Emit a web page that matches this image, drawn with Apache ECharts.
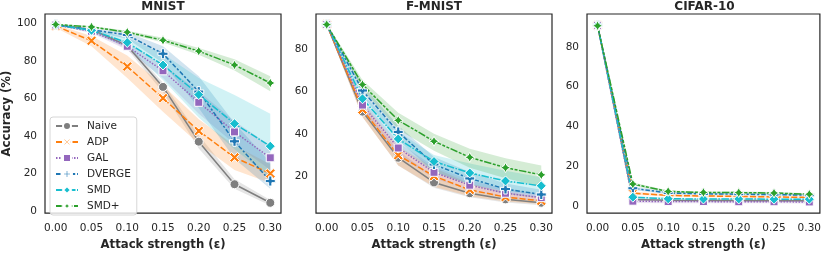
<!DOCTYPE html>
<html><head><meta charset="utf-8">
<script src="https://cdn.jsdelivr.net/npm/echarts@6/dist/echarts.min.js"></script>
<style>html,body{margin:0;padding:0;background:#fff}#c{width:824px;height:256px}</style>
</head><body><div id="c"></div>
<script>
// ---------- data ----------
const xValues = [0, 0.05, 0.1, 0.15, 0.2, 0.25, 0.3];
const xTickValues = [0, 0.05, 0.1, 0.15, 0.2, 0.25, 0.3];
const methods = ['Naive', 'ADP', 'GAL', 'DVERGE', 'SMD', 'SMD+'];
const panelTitles = ['MNIST', 'F-MNIST', 'CIFAR-10'];
const yTicksMnist = [0, 20, 40, 60, 80, 100];
const yTicksFmnist = [20, 40, 60, 80];
const yTicksCifar = [0, 20, 40, 60, 80];

// MNIST means
const mnistNaive  = [99.4, 97.0, 88.3, 66.3, 37.1, 14.4, 4.5];
const mnistADP    = [98.8, 90.9, 77.2, 60.3, 42.8, 28.7, 20.1];
const mnistGAL    = [99.3, 96.0, 88.0, 74.9, 58.1, 42.3, 28.5];
const mnistDVERGE = [99.4, 96.8, 94.0, 84.0, 63.8, 37.3, 16.1];
const mnistSMD    = [99.4, 96.5, 90.0, 78.0, 62.2, 46.7, 34.7];
const mnistSMDp   = [99.6, 98.3, 95.5, 91.2, 85.4, 78.0, 68.4];
// MNIST bands
const mnistNaiveLo  = [99.2, 96.5, 86.5, 63.5, 33.5, 12.0, 3.0];
const mnistNaiveHi  = [99.6, 97.5, 89.5, 68.5, 40.5, 17.0, 6.0];
const mnistADPLo    = [97.8, 88.0, 71.0, 53.0, 36.0, 22.0, 15.0];
const mnistADPHi    = [99.6, 93.5, 83.0, 67.0, 49.0, 35.0, 25.0];
const mnistGALLo    = [99.0, 95.0, 86.0, 71.0, 52.0, 36.0, 22.0];
const mnistGALHi    = [99.6, 97.0, 90.0, 78.0, 64.0, 48.0, 35.0];
const mnistDVERGELo = [99.2, 96.0, 92.0, 79.0, 55.0, 28.0, 12.0];
const mnistDVERGEHi = [99.6, 97.5, 95.5, 88.0, 72.0, 47.0, 26.0];
const mnistSMDLo    = [99.2, 95.5, 87.5, 70.0, 50.0, 33.0, 18.0];
const mnistSMDHi    = [99.6, 97.5, 92.5, 84.0, 71.0, 62.0, 52.0];
const mnistSMDpLo   = [99.4, 97.8, 94.8, 90.0, 83.5, 75.0, 64.0];
const mnistSMDpHi   = [99.8, 98.8, 96.2, 92.5, 87.0, 81.0, 72.0];

// F-MNIST means
const fmnistNaive  = [91.7, 50.5, 28.7, 17.0, 11.9, 9.0, 7.4];
const fmnistADP    = [91.7, 51.5, 29.9, 20.0, 13.5, 10.1, 8.3];
const fmnistGAL    = [91.7, 53.6, 33.3, 21.8, 15.7, 11.9, 9.8];
const fmnistDVERGE = [91.7, 60.5, 40.9, 25.5, 18.9, 13.9, 11.3];
const fmnistSMD    = [91.7, 56.6, 37.6, 26.9, 21.5, 17.7, 15.4];
const fmnistSMDp   = [91.7, 63.3, 46.4, 36.5, 28.9, 24.0, 20.6];
// F-MNIST bands
const fmnistNaiveLo  = [91.2, 48.0, 25.0, 14.5, 10.0, 7.5, 6.2];
const fmnistNaiveHi  = [92.2, 53.0, 32.0, 19.5, 13.5, 10.5, 8.6];
const fmnistADPLo    = [91.2, 48.0, 25.0, 15.0, 10.5, 8.0, 6.8];
const fmnistADPHi    = [92.2, 55.0, 34.0, 24.0, 16.5, 12.5, 10.0];
const fmnistGALLo    = [91.2, 51.0, 30.0, 19.0, 13.5, 10.0, 8.3];
const fmnistGALHi    = [92.2, 56.0, 36.0, 24.5, 18.0, 14.0, 11.5];
const fmnistDVERGELo = [91.2, 58.0, 37.0, 22.0, 16.0, 11.5, 9.5];
const fmnistDVERGEHi = [92.2, 63.0, 44.0, 29.0, 22.0, 16.5, 13.5];
const fmnistSMDLo    = [91.2, 54.0, 34.0, 22.0, 16.0, 13.0, 11.0];
const fmnistSMDHi    = [92.2, 59.0, 41.0, 30.0, 26.0, 22.5, 19.5];
const fmnistSMDpLo   = [91.3, 61.0, 42.0, 32.0, 24.0, 19.0, 15.0];
const fmnistSMDpHi   = [92.1, 65.5, 50.0, 40.0, 33.0, 28.5, 25.0];

// CIFAR-10 means
const cifarNaive  = [90.8, 3.2, 2.8, 2.7, 2.7, 2.6, 2.6];
const cifarADP    = [90.8, 6.4, 5.3, 5.0, 4.8, 4.5, 4.3];
const cifarGAL    = [90.8, 2.4, 2.2, 2.2, 2.1, 2.1, 2.0];
const cifarDVERGE = [90.8, 8.9, 6.5, 6.1, 5.9, 5.7, 5.4];
const cifarSMD    = [90.8, 4.4, 3.6, 3.5, 3.5, 3.4, 3.4];
const cifarSMDp   = [90.6, 11.0, 7.3, 6.8, 6.7, 6.5, 5.9];
// CIFAR-10 bands
const cifarNaiveLo  = [90.0, 2.6, 2.2, 2.1, 2.1, 2.0, 2.0];
const cifarNaiveHi  = [91.6, 3.8, 3.4, 3.3, 3.3, 3.2, 3.2];
const cifarADPLo    = [90.0, 5.6, 4.7, 4.4, 4.2, 4.0, 3.8];
const cifarADPHi    = [91.6, 7.2, 5.9, 5.6, 5.4, 5.0, 4.8];
const cifarGALLo    = [90.0, 1.5, 1.4, 1.4, 1.3, 1.3, 1.2];
const cifarGALHi    = [91.6, 3.3, 3.0, 3.0, 2.9, 2.9, 2.8];
const cifarDVERGELo = [90.0, 8.0, 5.9, 5.6, 5.4, 5.2, 4.9];
const cifarDVERGEHi = [91.6, 9.8, 7.1, 6.6, 6.4, 6.2, 5.9];
const cifarSMDLo    = [90.0, 3.8, 3.1, 3.0, 3.0, 2.9, 2.9];
const cifarSMDHi    = [91.6, 5.0, 4.1, 4.0, 4.0, 3.9, 3.9];
const cifarSMDpLo   = [90.0, 10.2, 6.8, 6.3, 6.2, 6.0, 5.4];
const cifarSMDpHi   = [91.2, 11.8, 7.8, 7.3, 7.2, 7.0, 6.4];

// ---------- styles ----------
const colors = {'Naive':'#7f7f7f','ADP':'#ff7f0e','GAL':'#9467bd','DVERGE':'#1f77b4','SMD':'#17becf','SMD+':'#2ca02c'};
const dashes = {'Naive':'solid','ADP':[6,2.25],'GAL':[1.5,1.5],'DVERGE':[4.5,1.9,2.25,1.9],'SMD':[7.5,1.5,1.5,1.5],'SMD+':[7.5,1.5,3,1.5,3,1.5]};
const symbols = {
  'Naive':'circle',
  'ADP':'path://M0,2 L2,0 L5,3 L8,0 L10,2 L7,5 L10,8 L8,10 L5,7 L2,10 L0,8 L3,5 Z',
  'GAL':'rect',
  'DVERGE':'path://M3.4,0 H6.6 V3.4 H10 V6.6 H6.6 V10 H3.4 V6.6 H0 V3.4 H3.4 Z',
  'SMD':'diamond',
  'SMD+':'path://M5,0 L6.77,3.23 L10,5 L6.77,6.77 L5,10 L3.23,6.77 L0,5 L3.23,3.23 Z'
};
const symSizes = {'Naive':9,'ADP':10,'GAL':8,'DVERGE':10,'SMD':10,'SMD+':10};

const panelData = [
  {mean:{'Naive':mnistNaive,'ADP':mnistADP,'GAL':mnistGAL,'DVERGE':mnistDVERGE,'SMD':mnistSMD,'SMD+':mnistSMDp},
   lo:{'Naive':mnistNaiveLo,'ADP':mnistADPLo,'GAL':mnistGALLo,'DVERGE':mnistDVERGELo,'SMD':mnistSMDLo,'SMD+':mnistSMDpLo},
   hi:{'Naive':mnistNaiveHi,'ADP':mnistADPHi,'GAL':mnistGALHi,'DVERGE':mnistDVERGEHi,'SMD':mnistSMDHi,'SMD+':mnistSMDpHi},
   ticks: yTicksMnist, ymin:-1.0, ymax:105.2},
  {mean:{'Naive':fmnistNaive,'ADP':fmnistADP,'GAL':fmnistGAL,'DVERGE':fmnistDVERGE,'SMD':fmnistSMD,'SMD+':fmnistSMDp},
   lo:{'Naive':fmnistNaiveLo,'ADP':fmnistADPLo,'GAL':fmnistGALLo,'DVERGE':fmnistDVERGELo,'SMD':fmnistSMDLo,'SMD+':fmnistSMDpLo},
   hi:{'Naive':fmnistNaiveHi,'ADP':fmnistADPHi,'GAL':fmnistGALHi,'DVERGE':fmnistDVERGEHi,'SMD':fmnistSMDHi,'SMD+':fmnistSMDpHi},
   ticks: yTicksFmnist, ymin:2.5, ymax:96.7},
  {mean:{'Naive':cifarNaive,'ADP':cifarADP,'GAL':cifarGAL,'DVERGE':cifarDVERGE,'SMD':cifarSMD,'SMD+':cifarSMDp},
   lo:{'Naive':cifarNaiveLo,'ADP':cifarADPLo,'GAL':cifarGALLo,'DVERGE':cifarDVERGELo,'SMD':cifarSMDLo,'SMD+':cifarSMDpLo},
   hi:{'Naive':cifarNaiveHi,'ADP':cifarADPHi,'GAL':cifarGALHi,'DVERGE':cifarDVERGEHi,'SMD':cifarSMDHi,'SMD+':cifarSMDpHi},
   ticks: yTicksCifar, ymin:-3.6, ymax:96.5}
];

const gridPos = [{left:45,width:236},{left:316,width:236},{left:587,width:235}];
const FONT = 'DejaVu Sans';
const TXT = '#262626';

// band polygon drawn once per band through the axis scales (api.coord)
function bandRenderer(color) {
  return function (params, api) {
    if (params.dataIndexInside !== 0) return null;
    const n = params.dataInsideLength;
    const upper = [], lower = [];
    for (let j = 0; j < n; j++) {
      const x = api.value(0, j), lo = api.value(1, j), hi = api.value(2, j);
      upper.push(api.coord([x, hi]));
      lower.push(api.coord([x, lo]));
    }
    const pts = upper.concat(lower.reverse());
    return {type:'polygon', shape:{points:pts}, style:{fill:color, opacity:0.2}, silent:true};
  };
}

const grids = [], xAxes = [], yAxes = [], titles = [], series = [];
gridPos.forEach((g, p) => {
  grids.push({left:g.left, top:14, width:g.width, height:206, show:true, borderColor:TXT, borderWidth:1.2, backgroundColor:'transparent', containLabel:false});
  titles.push({text:panelTitles[p], left:g.left + g.width/2, top:1, textAlign:'center', padding:0,
    textStyle:{fontFamily:FONT, fontSize:12, fontWeight:'bold', color:TXT}});
  xAxes.push({type:'value', gridIndex:p, min:-0.015, max:0.315,
    axisLine:{show:false}, axisTick:{show:false}, splitLine:{show:false},
    axisLabel:{customValues:xTickValues, formatter:v => v.toFixed(2), margin:10, fontFamily:FONT, fontSize:10.5, color:TXT},
    name:'Attack strength (ε)', nameLocation:'middle', nameGap:22,
    nameTextStyle:{fontFamily:FONT, fontSize:11.7, fontWeight:'bold', color:TXT}});
  const pd = panelData[p];
  yAxes.push({type:'value', gridIndex:p, min:pd.ymin, max:pd.ymax,
    axisLine:{show:false}, axisTick:{show:false}, splitLine:{show:false},
    axisLabel:{customValues:pd.ticks, margin:8, fontFamily:FONT, fontSize:10.5, color:TXT},
    name: p === 0 ? 'Accuracy (%)' : '', nameLocation:'middle', nameGap:32,
    nameTextStyle:{fontFamily:FONT, fontSize:11.7, fontWeight:'bold', color:TXT}});
  // bands first (below all lines)
  methods.forEach(m => {
    const lo = pd.lo[m], hi = pd.hi[m];
    series.push({type:'custom', name:'_band_'+p+'_'+m, xAxisIndex:p, yAxisIndex:p,
      data:xValues.map((x,i)=>[x, lo[i], hi[i]]),
      encode:{x:0, y:[1,2]}, renderItem:bandRenderer(colors[m]), clip:true, silent:true, z:1, animation:false});
  });
  methods.forEach(m => {
    const mean = pd.mean[m];
    series.push({type:'line', name:m, xAxisIndex:p, yAxisIndex:p,
      data:xValues.map((x,i)=>[x, mean[i]]),
      symbol:symbols[m], symbolSize:symSizes[m], showSymbol:true,
      itemStyle:{color:colors[m], borderColor:'#fff', borderWidth:1},
      lineStyle:{color:colors[m], width:1.5, type:dashes[m]},
      emphasis:{disabled:true}, z:2, animation:false});
  });
});

const chart = echarts.init(document.getElementById('c'), null, {renderer:'canvas'});
chart.setOption({
  animation:false,
  backgroundColor:'#fff',
  title:titles,
  grid:grids, xAxis:xAxes, yAxis:yAxes,
  legend:{data:methods, orient:'vertical', left:50, top:117, padding:[2,6,2,5], itemGap:2,
    itemWidth:22, itemHeight:10, backgroundColor:'rgba(255,255,255,0.8)', borderColor:'#cccccc', borderWidth:0.8, borderRadius:3,
    textStyle:{fontFamily:FONT, fontSize:10.5, color:TXT, lineHeight:14, padding:[0,0,0,4]}, selectedMode:false},
  series:series
});
</script></body></html>
